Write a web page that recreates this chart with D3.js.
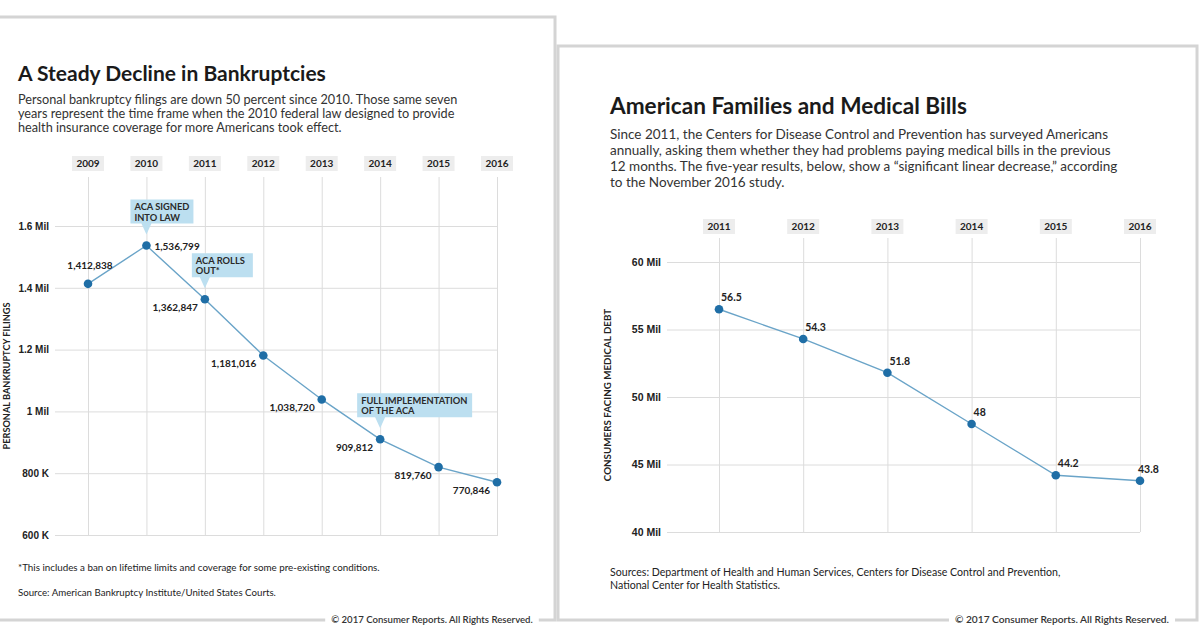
<!DOCTYPE html>
<html>
<head>
<meta charset="utf-8">
<script src="https://cdn.jsdelivr.net/npm/d3@7"></script>
<style>
  body { margin: 0; background: #fff; }
  svg { display: block; font-family: Lato, "Open Sans", sans-serif; }
  .grid line { stroke: #dcdcdc; }
  .grid path { display: none; }
  .ytick text { font-weight: 700; fill: #222; }
</style>
</head>
<body>
<svg id="chart" width="1200" height="628"></svg>
<script>
// bankruptcy filings (left)
var yearsL = ["2009", "2010", "2011", "2012", "2013", "2014", "2015", "2016"];
var filings = [1412838, 1536799, 1362847, 1181016, 1038720, 909812, 819760, 770846];
var ticksL = [600000, 800000, 1000000, 1200000, 1400000, 1600000];
var notes = [
  { year: "2010", lines: ["ACA SIGNED", "INTO LAW"] },
  { year: "2011", lines: ["ACA ROLLS", "OUT*"] },
  { year: "2014", lines: ["FULL IMPLEMENTATION", "OF THE ACA"] }
];

// consumers facing medical debt, millions (right)
var yearsR = ["2011", "2012", "2013", "2014", "2015", "2016"];
var debt = [56.5, 54.3, 51.8, 48, 44.2, 43.8];
var ticksR = [40, 45, 50, 55, 60];

var svg = d3.select("#chart");
var lineColor = "#6aa4c8", dotColor = "#1f6ea6";

// cards
svg.append("rect").attr("x", -3).attr("y", 17).attr("width", 558).attr("height", 603)
  .attr("fill", "#fff").attr("stroke", "#d4d4d4").attr("stroke-width", 3);
svg.append("rect").attr("x", 558).attr("y", 46).attr("width", 639).attr("height", 574)
  .attr("fill", "#fff").attr("stroke", "#d4d4d4").attr("stroke-width", 3);

function textBlock(g, x, y, lines, lh, size, weight, color) {
  lines.forEach(function(t, i) {
    g.append("text").attr("x", x).attr("y", y + i * lh)
      .attr("font-size", size).attr("font-weight", weight).attr("fill", color).text(t);
  });
}

function yearLabels(g, x, years, y) {
  years.forEach(function(yr) {
    g.append("rect").attr("x", x(yr) - 16).attr("y", y - 11).attr("width", 32).attr("height", 15)
      .attr("fill", "#ededed");
    g.append("text").attr("x", x(yr)).attr("y", y).attr("text-anchor", "middle")
      .attr("font-size", 10).attr("font-weight", 700).attr("fill", "#222").text(yr);
  });
}

function copyright(cx, y, size) {
  var t = svg.append("text").attr("x", cx).attr("y", y + 3).attr("text-anchor", "middle")
    .attr("font-size", size).attr("font-weight", 600).attr("fill", "#333")
    .text("\u00a9 2017 Consumer Reports. All Rights Reserved.");
  var b = t.node().getBBox();
  svg.insert("rect", function() { return t.node(); })
    .attr("x", b.x - 6).attr("y", y - 4).attr("width", b.width + 12).attr("height", 8).attr("fill", "#fff");
}

// ---------- left chart ----------
var gL = svg.append("g");
textBlock(gL, 18, 81, ["A Steady Decline in Bankruptcies"], 0, 21, 700, "#1a1a1a");
textBlock(gL, 18, 104, [
  "Personal bankruptcy filings are down 50 percent since 2010. Those same seven",
  "years represent the time frame when the 2010 federal law designed to provide",
  "health insurance coverage for more Americans took effect."
], 14, 12.7, 400, "#333");

var xL = d3.scalePoint().domain(yearsL).range([88, 497]);
var yL = d3.scaleLinear().domain([600000, 1600000]).range([535, 226]);
var fmtL = function(v) { return v >= 1e6 ? (v / 1e6) + " Mil" : (v / 1e3) + " K"; };

gL.append("g").attr("class", "grid").attr("transform", "translate(0,535)")
  .call(d3.axisBottom(xL).tickSize(-358).tickFormat(""));
gL.append("g").attr("class", "grid ytick").attr("transform", "translate(55,0)")
  .call(d3.axisLeft(yL).tickValues(ticksL).tickSize(-443).tickPadding(6).tickFormat(fmtL))
  .selectAll("text").attr("font-size", 10);
yearLabels(gL, xL, yearsL, 167);

gL.append("text").attr("transform", "translate(10,376) rotate(-90)").attr("text-anchor", "middle")
  .attr("font-size", 9.2).attr("font-weight", 700).attr("fill", "#222")
  .text("PERSONAL BANKRUPTCY FILINGS");

gL.append("path").datum(filings)
  .attr("d", d3.line().x(function(d, i) { return xL(yearsL[i]); }).y(function(d) { return yL(d); }))
  .attr("fill", "none").attr("stroke", lineColor).attr("stroke-width", 1.4);

// callouts
var noteW = { "2010": [-16, 63], "2011": [-13, 61], "2014": [-23, 115] };
notes.forEach(function(n) {
  var i = yearsL.indexOf(n.year);
  var px = xL(n.year), py = yL(filings[i]);
  var w = noteW[n.year];
  var bottom = py - 22, top = bottom - 24;
  var g = gL.append("g");
  g.append("path")
    .attr("d", "M" + (px + w[0]) + "," + top + "h" + w[1] + "v24" +
      "H" + (px + 5) + "L" + px + "," + (py - 11) + "L" + (px - 5) + "," + bottom +
      "H" + (px + w[0]) + "Z")
    .attr("fill", "#bcdff0");
  textBlock(g, px + w[0] + 4, top + 10.5, n.lines, 10.5, 9.3, 700, "#2a2a2a");
});

gL.selectAll(".dotL").data(filings).enter().append("circle")
  .attr("cx", function(d, i) { return xL(yearsL[i]); })
  .attr("cy", function(d) { return yL(d); })
  .attr("r", 4.3).attr("fill", dotColor);

gL.selectAll(".lblL").data(filings).enter().append("text")
  .attr("x", function(d, i) { var x = xL(yearsL[i]); return i === 0 ? x + 2 : i === 1 ? x + 8 : x - 7; })
  .attr("y", function(d, i) { var y = yL(d); return i === 0 ? y - 15 : i === 1 ? y + 4 : y + 12; })
  .attr("text-anchor", function(d, i) { return i === 0 ? "middle" : i === 1 ? "start" : "end"; })
  .attr("font-size", 10).attr("font-weight", 700).attr("fill", "#222")
  .text(d3.format(","));

textBlock(gL, 18, 571, ["*This includes a ban on lifetime limits and coverage for some pre-existing conditions."], 0, 9.8, 400, "#222");
textBlock(gL, 18, 596, ["Source: American Bankruptcy Institute/United States Courts."], 0, 9.7, 400, "#222");
copyright(432, 620, 9.6);

// ---------- right chart ----------
var gR = svg.append("g");
textBlock(gR, 610, 114, ["American Families and Medical Bills"], 0, 22.6, 700, "#1a1a1a");
textBlock(gR, 610, 139, [
  "Since 2011, the Centers for Disease Control and Prevention has surveyed Americans",
  "annually, asking them whether they had problems paying medical bills in the previous",
  "12 months. The five-year results, below, show a \u201csignificant linear decrease,\u201d according",
  "to the November 2016 study."
], 16, 13.5, 400, "#333");

var xR = d3.scalePoint().domain(yearsR).range([719, 1140]);
var yR = d3.scaleLinear().domain([40, 60]).range([532, 262]);

gR.append("g").attr("class", "grid").attr("transform", "translate(0,532)")
  .call(d3.axisBottom(xR).tickSize(-294).tickFormat(""));
gR.append("g").attr("class", "grid ytick").attr("transform", "translate(667,0)")
  .call(d3.axisLeft(yR).tickValues(ticksR).tickSize(-473).tickPadding(6).tickFormat(function(v) { return v + " Mil"; }))
  .selectAll("text").attr("font-size", 10.5);
yearLabels(gR, xR, yearsR, 230);

gR.append("text").attr("transform", "translate(611,395) rotate(-90)").attr("text-anchor", "middle")
  .attr("font-size", 9.8).attr("font-weight", 700).attr("fill", "#222")
  .text("CONSUMERS FACING MEDICAL DEBT");

gR.append("path").datum(debt)
  .attr("d", d3.line().x(function(d, i) { return xR(yearsR[i]); }).y(function(d) { return yR(d); }))
  .attr("fill", "none").attr("stroke", lineColor).attr("stroke-width", 1.4);

gR.selectAll(".dotR").data(debt).enter().append("circle")
  .attr("cx", function(d, i) { return xR(yearsR[i]); })
  .attr("cy", function(d) { return yR(d); })
  .attr("r", 4.3).attr("fill", dotColor);

gR.selectAll(".lblR").data(debt).enter().append("text")
  .attr("x", function(d, i) { return xR(yearsR[i]) + (i === debt.length - 1 ? -2 : 2); })
  .attr("y", function(d) { return yR(d) - 8; })
  .attr("font-size", 10.5).attr("font-weight", 700).attr("fill", "#222")
  .text(function(d) { return d; });

textBlock(gR, 610, 576, [
  "Sources:  Department of Health and Human Services, Centers for Disease Control and Prevention,",
  "National Center for Health Statistics."
], 13, 10.6, 400, "#222");
copyright(1062, 620, 10.2);
</script>
</body>
</html>
